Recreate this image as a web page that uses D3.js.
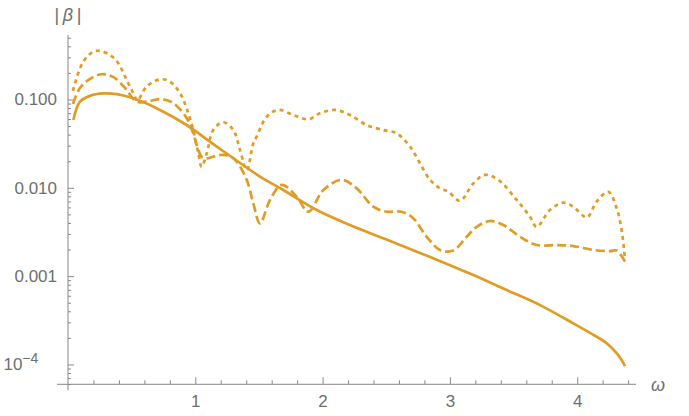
<!DOCTYPE html>
<html>
<head>
<meta charset="utf-8">
<script src="https://cdn.jsdelivr.net/npm/d3@7"></script>
<style>
  body { margin: 0; background: #fff; }
  .tick-label { font-family: 'Liberation Sans', Arial, sans-serif; font-size: 17px; fill: #6e6e6e; }
  .axis-title { font-family: 'Liberation Sans', Arial, sans-serif; font-size: 18px; fill: #6e6e6e; }
</style>
</head>
<body>
<div id="chart"></div>
<script>
// values (omega, |beta|)
const solidOmega = [0.042, 0.094, 0.173, 0.277, 0.383, 0.513, 0.723, 0.932, 1.115, 1.299, 1.508, 1.691, 1.954, 2.215, 2.477, 2.870, 3.184, 3.446, 3.708, 3.969, 4.100, 4.232, 4.310, 4.349, 4.376];
const solidBeta = [0.0586, 0.0944, 0.110, 0.117, 0.115, 0.103, 0.0761, 0.0514, 0.0333, 0.0216, 0.0134, 0.00944, 0.00561, 0.00379, 0.00268, 0.00159, 0.00103, 0.000695, 0.000470, 0.000292, 0.000228, 0.000174, 0.000134, 0.000112, 0.0000959];

const dashedOmega = [0.039, 0.094, 0.173, 0.265, 0.354, 0.448, 0.540, 0.644, 0.723, 0.825, 0.932, 0.984, 1.011, 1.063, 1.194, 1.273, 1.325, 1.404, 1.456, 1.508, 1.587, 1.679, 1.797, 1.888, 2.006, 2.150, 2.268, 2.398, 2.504, 2.621, 2.712, 2.818, 2.922, 3.027, 3.132, 3.211, 3.315, 3.420, 3.551, 3.682, 3.839, 3.969, 4.126, 4.258, 4.310, 4.376];
const dashedBeta = [0.0889, 0.135, 0.171, 0.193, 0.180, 0.135, 0.0944, 0.0962, 0.101, 0.0913, 0.0617, 0.0414, 0.0305, 0.0216, 0.0235, 0.0229, 0.0198, 0.0123, 0.00667, 0.00396, 0.00728, 0.0108, 0.00793, 0.00536, 0.00944, 0.0123, 0.00986, 0.00611, 0.00536, 0.00536, 0.00452, 0.00279, 0.00198, 0.00195, 0.00279, 0.00362, 0.00421, 0.00379, 0.00279, 0.00225, 0.00225, 0.00219, 0.00198, 0.00192, 0.00195, 0.00146];

const dottedOmega = [0.039, 0.055, 0.120, 0.199, 0.251, 0.330, 0.395, 0.461, 0.526, 0.544, 0.618, 0.723, 0.801, 0.880, 0.932, 0.984, 1.024, 1.050, 1.090, 1.141, 1.220, 1.299, 1.351, 1.404, 1.456, 1.482, 1.561, 1.652, 1.770, 1.888, 1.980, 2.097, 2.215, 2.346, 2.477, 2.582, 2.687, 2.765, 2.844, 2.922, 2.987, 3.079, 3.184, 3.276, 3.380, 3.525, 3.629, 3.682, 3.786, 3.891, 3.969, 4.075, 4.153, 4.244, 4.310, 4.349, 4.376];
const dottedBeta = [0.125, 0.152, 0.268, 0.348, 0.354, 0.319, 0.257, 0.166, 0.108, 0.0969, 0.140, 0.169, 0.159, 0.118, 0.0795, 0.0451, 0.0246, 0.0173, 0.0246, 0.0451, 0.0552, 0.0451, 0.0268, 0.0159, 0.0319, 0.0379, 0.0638, 0.0761, 0.0667, 0.0597, 0.0698, 0.0761, 0.0667, 0.0514, 0.0451, 0.0414, 0.0292, 0.0189, 0.0123, 0.00986, 0.00903, 0.00714, 0.0112, 0.0140, 0.0123, 0.00728, 0.00471, 0.00362, 0.00561, 0.00678, 0.00611, 0.00463, 0.00697, 0.00903, 0.00586, 0.00333, 0.00152];

const xMajorTicks = [1, 2, 3, 4];
const xMinorTicks = [0.2, 0.4, 0.6, 0.8, 1.2, 1.4, 1.6, 1.8, 2.2, 2.4, 2.6, 2.8, 3.2, 3.4, 3.6, 3.8, 4.2, 4.4];
const yMajorTicks = [0.0001, 0.001, 0.01, 0.1];
const yMajorLabels = ['10', '0.001', '0.010', '0.100'];
const yMinorTicks = [0.00006, 0.00007, 0.00008, 0.00009,
  0.0002, 0.0003, 0.0004, 0.0005, 0.0006, 0.0007, 0.0008, 0.0009,
  0.002, 0.003, 0.004, 0.005, 0.006, 0.007, 0.008, 0.009,
  0.02, 0.03, 0.04, 0.05, 0.06, 0.07, 0.08, 0.09,
  0.2, 0.3, 0.4, 0.5];

const colour = '#e09c24';
const width = 689;
const height = 416;

// plot area in pixels
const x = d3.scaleLinear().domain([0, 4.462]).range([68, 636]);
const y = d3.scaleLog().domain([5.96e-5, 0.537]).range([384.3, 35]);

const svg = d3.select('#chart').append('svg')
  .attr('width', width)
  .attr('height', height);

// axis lines (they run a little past the origin like Mathematica's)
svg.append('line')
  .attr('x1', 57).attr('x2', x.range()[1])
  .attr('y1', y.range()[0]).attr('y2', y.range()[0])
  .attr('stroke', '#888').attr('stroke-width', 1);
svg.append('line')
  .attr('x1', x(0)).attr('x2', x(0))
  .attr('y1', y.range()[0] + 6).attr('y2', y.range()[1])
  .attr('stroke', '#888').attr('stroke-width', 1);

// x ticks point up into the plot
const xMajor = svg.append('g')
  .attr('transform', `translate(0,${y.range()[0]})`)
  .call(d3.axisBottom(x).tickValues(xMajorTicks).tickSize(-7).tickPadding(11).tickFormat(d3.format('d')));
const xMinor = svg.append('g')
  .attr('transform', `translate(0,${y.range()[0]})`)
  .call(d3.axisBottom(x).tickValues(xMinorTicks).tickSize(-4).tickFormat(''));

// y ticks point right into the plot
const yMajor = svg.append('g')
  .attr('transform', `translate(${x(0)},0)`)
  .call(d3.axisLeft(y).tickValues(yMajorTicks).tickSize(-6).tickPadding(11).tickFormat((d, i) => yMajorLabels[i]));
const yMinor = svg.append('g')
  .attr('transform', `translate(${x(0)},0)`)
  .call(d3.axisLeft(y).tickValues(yMinorTicks).tickSize(-3).tickFormat(''));

[xMajor, xMinor, yMajor, yMinor].forEach((g) => {
  g.select('.domain').remove();
  g.selectAll('.tick line').attr('stroke', '#888');
  g.selectAll('text').attr('class', 'tick-label').attr('font-size', null).attr('font-family', null).attr('fill', null);
});

// superscript for 10^-4
yMajor.selectAll('.tick text')
  .filter((d) => d === 0.0001)
  .attr('dx', '-1.1em')
  .append('tspan')
  .attr('dy', '-0.5em')
  .attr('font-size', '14px')
  .text('\u22124');

// curves
const series = [
  { omega: solidOmega, beta: solidBeta, dash: null },
  { omega: dashedOmega, beta: dashedBeta, dash: '9,4' },
  { omega: dottedOmega, beta: dottedBeta, dash: '4,4' },
];

const line = d3.line()
  .x((d) => x(d[0]))
  .y((d) => y(d[1]))
  .curve(d3.curveCatmullRom.alpha(0.5));

svg.selectAll('.curve')
  .data(series)
  .enter()
  .append('path')
  .attr('class', 'curve')
  .attr('d', (s) => line(s.omega.map((o, i) => [o, s.beta[i]])))
  .attr('fill', 'none')
  .attr('stroke', colour)
  .attr('stroke-width', 2.7)
  .attr('stroke-dasharray', (s) => s.dash);

// axis titles
const yTitle = svg.append('text')
  .attr('class', 'axis-title')
  .attr('x', x(0))
  .attr('y', 21)
  .attr('text-anchor', 'middle');
yTitle.append('tspan').text('|\u2009');
yTitle.append('tspan').attr('font-style', 'italic').text('\u03b2');
yTitle.append('tspan').text('\u2009|');

svg.append('text')
  .attr('class', 'axis-title')
  .attr('x', 658)
  .attr('y', 391)
  .attr('text-anchor', 'middle')
  .attr('font-style', 'italic')
  .text('\u03c9');
</script>
</body>
</html>
